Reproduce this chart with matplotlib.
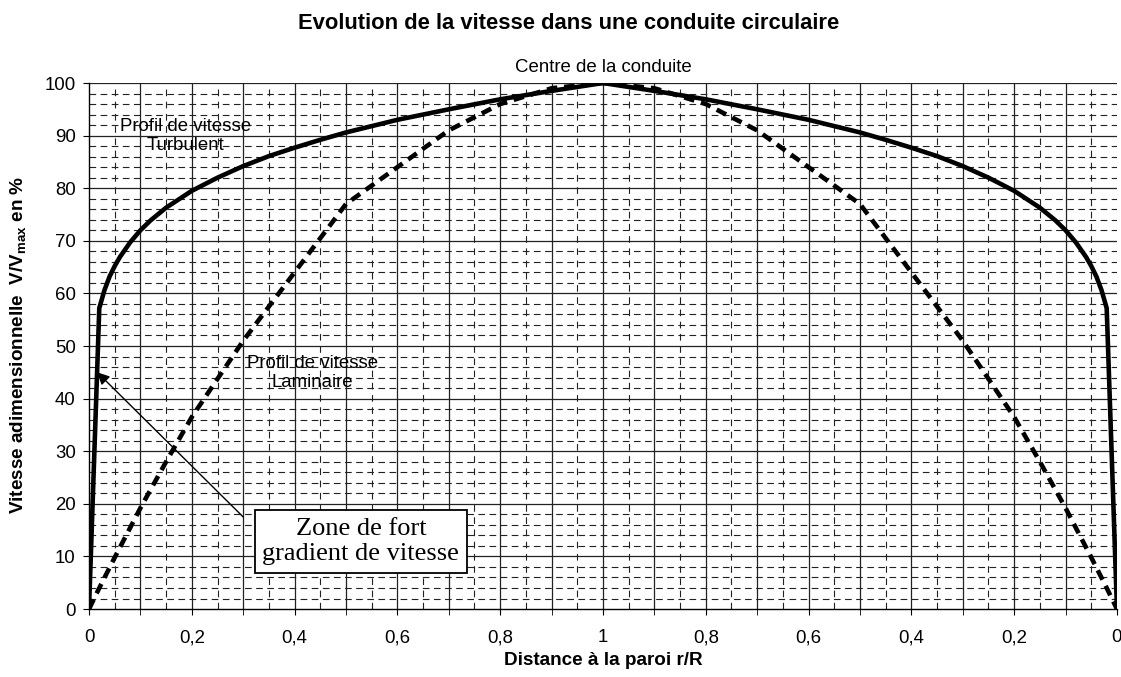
import matplotlib
matplotlib.use("Agg")
import matplotlib.pyplot as plt
import numpy as np
from matplotlib.ticker import MultipleLocator, FixedLocator

plt.rcParams['font.family'] = ['Liberation Sans', 'DejaVu Sans']

# Distance to wall r/R (left half, wall -> centre)
r_turb = [0.0, 0.02, 0.03, 0.04, 0.05, 0.06, 0.08, 0.1, 0.12, 0.15, 0.2, 0.25, 0.3, 0.35,
          0.4, 0.45, 0.5, 0.6, 0.7, 0.8, 0.9, 1.0]
turbulent_half = [0.0, 57.2, 60.6, 63.2, 65.2, 66.9, 69.7, 72.0, 73.9, 76.3, 79.5, 82.0, 84.2, 86.1,
                  87.7, 89.2, 90.6, 93.0, 95.0, 96.9, 98.5, 100.0]
r_lam = [0.0, 0.02, 0.05, 0.1, 0.15, 0.2, 0.3, 0.4, 0.5, 0.6, 0.7, 0.8, 0.9, 1.0]
laminar_half = [0.0, 4.0, 9.8, 19.2, 28.0, 36.5, 51.0, 64.0, 77.0, 84.0, 91.0, 96.0, 99.0, 100.0]

# Tick labels (distance to wall on both sides)
xtick_pos = [0, 0.2, 0.4, 0.6, 0.8, 1.0, 1.2, 1.4, 1.6, 1.8, 2.0]
xtick_labels = ["0", "0,2", "0,4", "0,6", "0,8", "1", "0,8", "0,6", "0,4", "0,2", "0"]

# Build full profiles across the pipe (left wall -> centre -> right wall)
def mirror(r, v):
    x = list(r) + [2.0 - a for a in r[::-1][1:]]
    y = list(v) + list(v[::-1][1:])
    return x, y

x_turb, turb_full = mirror(r_turb, turbulent_half)
x_lam, lam_full = mirror(r_lam, laminar_half)

fig = plt.figure(figsize=(11.21, 6.77), dpi=100)
ax = fig.add_axes([0.0794, 0.1004, 0.917, 0.777])

ax.set_xlim(0, 2)
ax.set_ylim(0, 100)

ax.xaxis.set_major_locator(FixedLocator(xtick_pos))
ax.set_xticklabels(xtick_labels)
ax.xaxis.set_minor_locator(MultipleLocator(0.1))
ax.yaxis.set_major_locator(MultipleLocator(10))

# grid
for xv in np.arange(0.1, 2.0, 0.1):
    ax.axvline(xv, color='#222222', lw=0.9, zorder=1)
for xv in np.arange(0.05, 2.0, 0.1):
    ax.axvline(xv, color='#222222', lw=0.8, ls=(0, (6, 5)), zorder=1)
for yv in range(10, 101, 10):
    ax.axhline(yv, color='#222222', lw=0.9, zorder=1)
for yv in range(2, 100, 2):
    if yv % 10:
        ax.axhline(yv, color='#222222', lw=0.8, ls=(0, (6, 4)), zorder=1)

ax.tick_params(axis='both', which='major', labelsize=13.4, direction='out', length=4, color='black')
ax.tick_params(axis='x', which='minor', direction='out', length=4)
ax.tick_params(axis='x', which='major', pad=10.7)
ax.tick_params(axis='y', which='major', pad=5.5)

for s in ['top', 'right']:
    ax.spines[s].set_visible(False)
ax.spines['left'].set_linewidth(1.0)
ax.spines['bottom'].set_linewidth(1.0)

ax.plot(x_turb, turb_full, color='black', lw=3.3, zorder=4, solid_joinstyle='round')
ax.plot(x_lam, lam_full, color='black', lw=3.3, ls=(0, (2.3, 1.5)), zorder=4)

# texts
ax.text(0.187, 90, "Profil de vitesse\nTurbulent", ha='center', va='center',
        fontsize=13.4, linespacing=1.15, zorder=5)
ax.text(0.434, 44.9, "Profil de vitesse\nLaminaire", ha='center', va='center',
        fontsize=13.4, linespacing=1.15, zorder=5)
ax.text(1.0, 102.1, "Centre de la conduite", ha='center', va='baseline', fontsize=13.4)

ax.annotate("", xy=(0.016, 45), xytext=(0.30, 17.5),
            arrowprops=dict(arrowstyle='-|>', color='black', lw=1.0,
                            mutation_scale=18, shrinkA=0, shrinkB=0), zorder=6)
ax.text(0.529, 12.8, "Zone de fort\ngradient de vitesse", ha='center', va='center',
        fontsize=19, family=['Liberation Serif', 'DejaVu Serif'], linespacing=1.17,
        bbox=dict(boxstyle='square,pad=0.3', fc='white', ec='black', lw=1.3), zorder=7)

fig.text(0.538, 1 - 665 / 677, "Distance à la paroi r/R", ha='center', va='baseline',
         fontsize=13.6, fontweight='bold')
fig.text(0.017, 0.49, "Vitesse adimensionnelle  V/V$_\\mathregular{max}$ en %", ha='center',
         va='center', rotation=90, fontsize=13.6, fontweight='bold')
fig.text(0.507, 1 - 29 / 677, "Evolution de la vitesse dans une conduite circulaire",
         ha='center', va='baseline', fontsize=15.8, fontweight='bold')

fig.savefig("out.png", dpi=100)
